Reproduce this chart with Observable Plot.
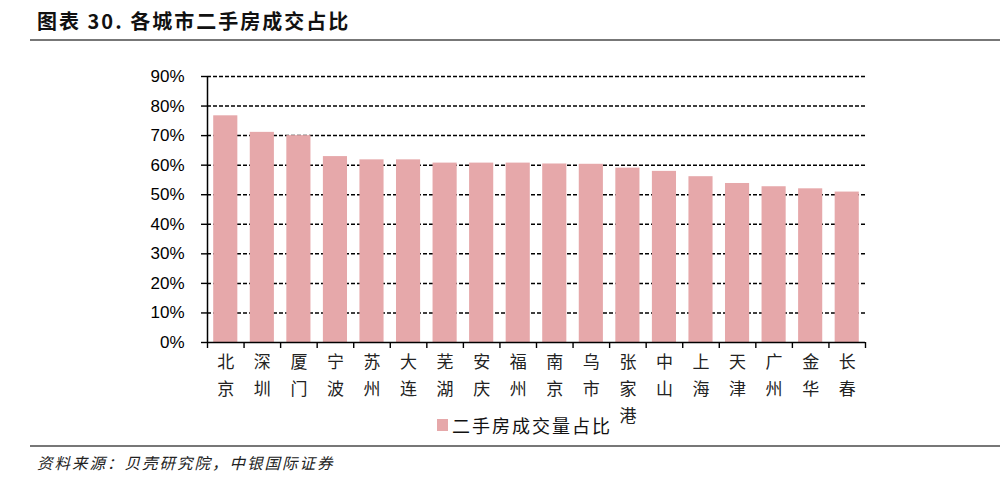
<!DOCTYPE html>
<html>
<head>
<meta charset="utf-8">
<script src="https://cdn.jsdelivr.net/npm/d3@7"></script>
<script src="https://cdn.jsdelivr.net/npm/@observablehq/plot@0.6"></script>
<style>
  body { margin:0; width:1000px; height:489px; position:relative; background:#fff; overflow:hidden; font-family:"Noto Sans CJK SC", sans-serif; }
  #title { position:absolute; left:37px; top:6px; font-size:20px; font-weight:bold; color:#111; letter-spacing:2px; }
  .hr { position:absolute; left:30px; width:970px; height:2px; background:#777; }
  #chart { position:absolute; left:0; top:42px; }
  #legend { position:absolute; left:437px; top:412px; font-size:18px; color:#111; letter-spacing:2px; display:flex; align-items:center; }
  #legend .sw { width:11px; height:12px; background:#e6a8aa; margin-right:4px; }
  #source { position:absolute; left:37px; top:451px; font-size:15.5px; font-style:italic; color:#222; letter-spacing:2px; }
</style>
</head>
<body>
<div id="title">图表 30. 各城市二手房成交占比</div>
<div class="hr" style="top:39px"></div>
<div id="chart"></div>
<div id="legend"><span class="sw"></span><span>二手房成交量占比</span></div>
<div class="hr" style="top:445px"></div>
<div id="source">资料来源：贝壳研究院，中银国际证券</div>
<script>
const cities = ["北京","深圳","厦门","宁波","苏州","大连","芜湖","安庆","福州","南京","乌市","张家港","中山","上海","天津","广州","金华","长春"];
const shares = [76.7,71.1,70.0,62.9,61.8,61.8,60.7,60.7,60.7,60.4,60.3,59.0,57.9,56.1,53.8,52.7,52.0,50.9];
const yTicks = [0,10,20,30,40,50,60,70,80,90];
const seriesName = "二手房成交量占比";

const data = cities.map((c, i) => ({city: c, share: shares[i]}));

const W = 1000, H = 400, ML = 207, MR = 135, MT = 34, MB = 100;
const step = (W - ML - MR) / cities.length;

const chart = Plot.plot({
  width: W, height: H,
  marginLeft: ML, marginRight: MR, marginTop: MT, marginBottom: MB,
  x: {domain: cities, paddingInner: 0.34, paddingOuter: 0.17, round: false},
  y: {domain: [0, 90]},
  style: {background: "#fff", overflow: "visible"},
  marks: [
    Plot.ruleY(yTicks.slice(1), {stroke: "#000", strokeWidth: 1.5, strokeDasharray: "4,2"}),
    Plot.barY(data, {x: "city", y: "share", fill: "#e6a8aa"}),
    Plot.ruleY([0], {stroke: "#000", strokeWidth: 1.5}),
    Plot.ruleX([cities[0]], {y1: 0, y2: 90, dx: -step / 2, stroke: "#000", strokeWidth: 1.5}),
    Plot.axisY({ticks: yTicks, tickFormat: d => d + "%", tickSize: 6, tickPadding: 17,
      fontSize: 17, fontFamily: "Liberation Sans, Arial, sans-serif", color: "#000", stroke: "#000", strokeWidth: 1.4, label: null}),
    Plot.axisX({ticks: cities, tickSize: 6, tickFormat: () => "", dx: -step / 2, stroke: "#000", strokeWidth: 1.4, label: null}),
    Plot.axisX({ticks: [cities[cities.length - 1]], tickSize: 6, tickFormat: () => "", dx: step / 2, stroke: "#000", strokeWidth: 1.4, label: null}),
    Plot.axisX({ticks: cities, tickSize: 0, tickPadding: 6, tickFormat: c => c.split("").join("\n"),
      fontSize: 17, lineHeight: 27 / 17, fontFamily: "Noto Sans CJK SC", fill: "#222", label: null})
  ]
});
document.getElementById("chart").appendChild(chart);
</script>
</body>
</html>
